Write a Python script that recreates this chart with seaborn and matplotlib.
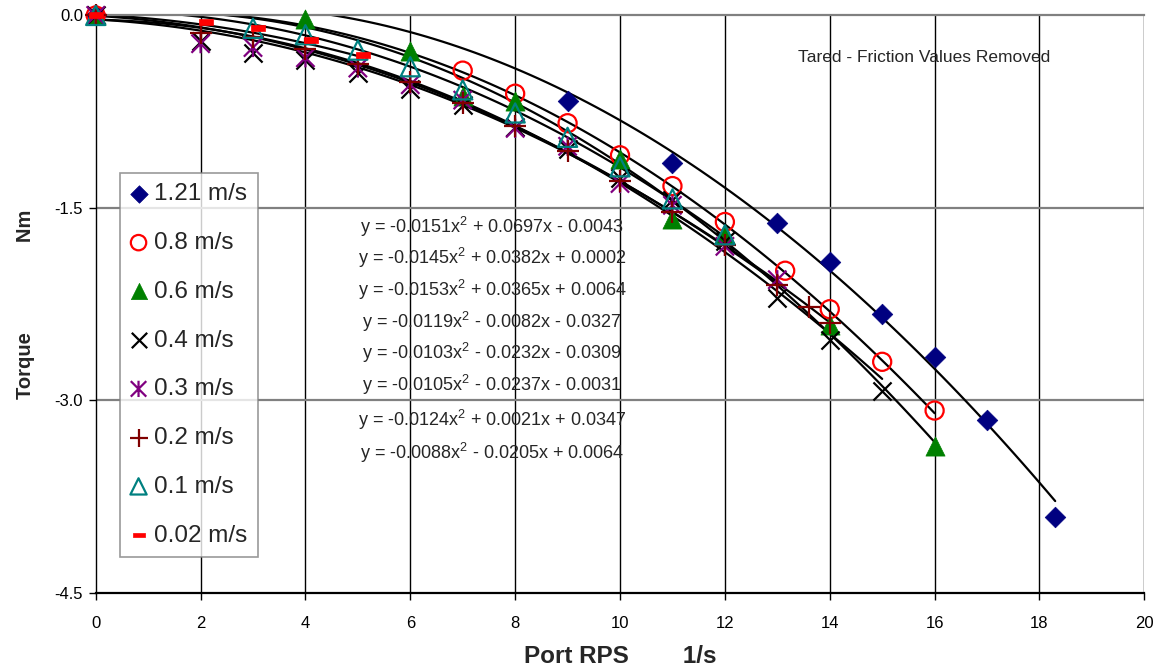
import numpy as np
import matplotlib
matplotlib.use("Agg")
import matplotlib.pyplot as plt
from matplotlib.path import Path
import pandas as pd
import seaborn as sns

# Data (Port RPS vs Torque)
x_121 = [0, 9, 11, 13, 14, 15, 16, 17, 18.3]
y_121 = [0, -0.67, -1.15, -1.62, -1.92, -2.33, -2.66, -3.15, -3.91]

x_08 = [0, 7, 8, 9, 10, 11, 12, 13.15, 14, 15, 16]
y_08 = [0, -0.43, -0.61, -0.84, -1.09, -1.33, -1.61, -1.99, -2.29, -2.70, -3.08]

x_06 = [0, 4, 6, 7, 8, 10, 11, 12, 14, 16]
y_06 = [0, -0.03, -0.28, -0.63, -0.67, -1.12, -1.59, -1.70, -2.41, -3.36]

x_04 = [0, 2, 3, 4, 5, 6, 7, 8, 9, 10, 11, 12, 13, 14, 15]
y_04 = [0, -0.20, -0.29, -0.35, -0.45, -0.57, -0.70, -0.87, -1.04, -1.27, -1.44, -1.76, -2.20, -2.53, -2.93]

x_03 = [0, 2, 3, 4, 5, 6, 7, 8, 9, 10, 11, 12, 13]
y_03 = [0, -0.22, -0.25, -0.33, -0.41, -0.54, -0.66, -0.88, -1.02, -1.31, -1.48, -1.80, -2.06]

x_02 = [0, 2, 3, 4, 5, 6, 7, 8, 9, 10, 11, 12, 13, 13.6, 14]
y_02 = [0, -0.14, -0.17, -0.26, -0.38, -0.52, -0.68, -0.86, -1.06, -1.29, -1.53, -1.79, -2.10, -2.27, -2.40]

x_01 = [0, 3, 4, 5, 6, 7, 8, 9, 10, 11, 12]
y_01 = [0, -0.10, -0.15, -0.27, -0.40, -0.58, -0.76, -0.95, -1.18, -1.43, -1.71]

x_002 = [0, 2.1, 3.1, 4.1, 5.1]
y_002 = [0, -0.05, -0.10, -0.19, -0.31]

labels = ["1.21 m/s", "0.8 m/s", "0.6 m/s", "0.4 m/s", "0.3 m/s", "0.2 m/s", "0.1 m/s", "0.02 m/s"]
xs = [x_121, x_08, x_06, x_04, x_03, x_02, x_01, x_002]
ys = [y_121, y_08, y_06, y_04, y_03, y_02, y_01, y_002]

# trendline coefficients as printed on the chart (a, b, c for ax^2 + bx + c)
fit_121 = [-0.0151, 0.0697, -0.0043]
fit_08 = [-0.0145, 0.0382, 0.0002]
fit_06 = [-0.0153, 0.0365, 0.0064]
fit_04 = [-0.0119, -0.0082, -0.0327]
fit_03 = [-0.0103, -0.0232, -0.0309]
fit_02 = [-0.0105, -0.0237, -0.0031]
fit_01 = [-0.0124, 0.0021, 0.0347]
fit_002 = [-0.0088, -0.0205, 0.0064]
fits = [fit_121, fit_08, fit_06, fit_04, fit_03, fit_02, fit_01, fit_002]

equations = [
    "y = -0.0151x$^2$ + 0.0697x - 0.0043",
    "y = -0.0145x$^2$ + 0.0382x + 0.0002",
    "y = -0.0153x$^2$ + 0.0365x + 0.0064",
    "y = -0.0119x$^2$ - 0.0082x - 0.0327",
    "y = -0.0103x$^2$ - 0.0232x - 0.0309",
    "y = -0.0105x$^2$ - 0.0237x - 0.0031",
    "y = -0.0124x$^2$ + 0.0021x + 0.0347",
    "y = -0.0088x$^2$ - 0.0205x + 0.0064",
]
eq_y = [-1.65, -1.89, -2.14, -2.39, -2.63, -2.88, -3.15, -3.41]

# marker shapes
asterisk = Path([(-1, -1), (1, 1), (-1, 1), (1, -1), (0, -1.05), (0, 1.05)],
                [Path.MOVETO, Path.LINETO, Path.MOVETO, Path.LINETO, Path.MOVETO, Path.LINETO])
dash = [(-1, -0.38), (1, -0.38), (1, 0.38), (-1, 0.38), (-1, -0.38)]

styles = [
    dict(marker="D", color="#000080", s=110, kind="filled"),
    dict(marker="o", color="#FF0000", s=170, kind="open"),
    dict(marker="^", color="#008000", s=190, kind="filled"),
    dict(marker="x", color="#000000", s=170, kind="line"),
    dict(marker=asterisk, color="#800080", s=190, kind="path"),
    dict(marker="+", color="#800000", s=230, kind="line"),
    dict(marker="^", color="#008080", s=190, kind="open"),
    dict(marker=dash, color="#FF0000", s=90, kind="filled"),
]

sns.set_theme(style="white")
plt.rcParams["font.family"] = ["Liberation Sans", "DejaVu Sans"]
plt.rcParams["mathtext.fontset"] = "custom"
plt.rcParams["mathtext.rm"] = "Liberation Sans"
plt.rcParams["mathtext.default"] = "regular"

fig = plt.figure(figsize=(11.6, 6.72), dpi=100)
ax = fig.add_axes([0.0825, 0.118, 0.904, 0.859])

# trend lines over each series' range
for x, c in zip(xs, fits):
    grid = np.linspace(0, max(x), 120)
    sns.lineplot(x=grid, y=np.polyval(c, grid), color="black", lw=1.6, zorder=2, ax=ax)

for x, y, lab, st in zip(xs, ys, labels, styles):
    df = pd.DataFrame({"rps": x, "torque": y})
    kw = dict(marker=st["marker"], s=st["s"], zorder=3, clip_on=False)
    if st["kind"] == "filled":
        kw.update(color=st["color"], edgecolor=st["color"], linewidth=0.5)
    elif st["kind"] in ("open", "path"):
        kw.update(facecolor="none", edgecolor=st["color"], linewidth=1.6)
    else:
        kw.update(color=st["color"], linewidth=1.6)
    sns.scatterplot(data=df, x="rps", y="torque", label=lab, ax=ax, **kw)

ax.set_xlim(0, 20)
ax.set_ylim(-4.5, 0)
ax.set_xticks(np.arange(0, 21, 2))
ax.set_yticks([0, -1.5, -3.0, -4.5])
ax.set_yticklabels(["0.0", "-1.5", "-3.0", "-4.5"])
ax.tick_params(axis="both", labelsize=12, colors="black", direction="out", length=5, width=1,
               left=True, bottom=True, pad=4)
ax.tick_params(axis="x", pad=12)

for xv in np.arange(2, 21, 2):
    ax.axvline(xv, color="black", lw=1.0, zorder=1)
for yv in [-1.5, -3.0]:
    ax.axhline(yv, color="#808080", lw=1.6, zorder=1)

ax.spines["top"].set_color("#808080")
ax.spines["top"].set_linewidth(1.6)
ax.spines["right"].set_visible(False)
ax.spines["left"].set_color("black")
ax.spines["left"].set_linewidth(1.0)
ax.spines["bottom"].set_color("black")
ax.spines["bottom"].set_linewidth(1.6)

ax.set_xlabel("Port RPS        1/s", fontsize=17.5, fontweight="bold", labelpad=10)
ax.set_ylabel("Torque                Nm", fontsize=14.5, fontweight="bold", labelpad=14)

for eq, yy in zip(equations, eq_y):
    ax.text(7.56, yy, eq, fontsize=13, ha="center", va="center", zorder=4)
ax.text(15.8, -0.325, "Tared - Friction Values Removed", fontsize=12.5, ha="center", va="center")

leg = ax.legend(loc="upper left", bbox_to_anchor=(0.023, 0.727), borderaxespad=0,
                fontsize=17.5, frameon=True, fancybox=False, edgecolor="#808080",
                labelspacing=1.1, handletextpad=0.3, handlelength=0.7, borderpad=0.42,
                markerscale=0.85)
leg.get_frame().set_linewidth(1.2)
leg.set_zorder(5)

fig.savefig("out.png", dpi=100, facecolor="white")
